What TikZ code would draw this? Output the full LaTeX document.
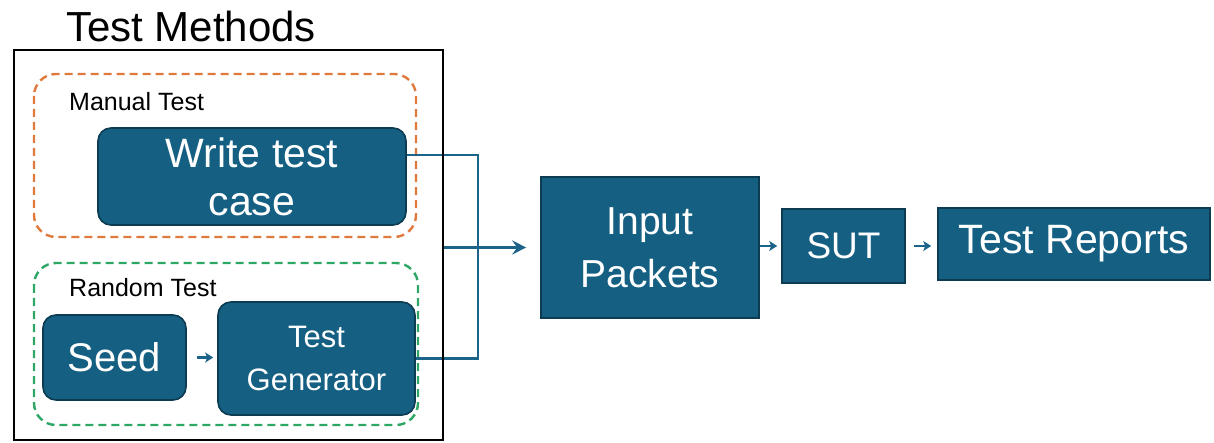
\documentclass[tikz,border=0pt]{standalone}
\usepackage{fontspec}
\setmainfont{Liberation Sans}
\usetikzlibrary{arrows.meta}

\definecolor{boxfill}{HTML}{156082}
\definecolor{boxline}{HTML}{0C3B52}
\definecolor{wire}{HTML}{1C6389}
\definecolor{manualc}{HTML}{E07A3C}
\definecolor{randomc}{HTML}{2EA765}

\tikzset{
  fs/.style 2 args={font=\fontsize{#1}{#2}\selectfont},
  blockbox/.style={draw=boxline, line width=1.6pt, fill=boxfill,
    text=white, align=center, inner sep=0pt},
  roundblock/.style={blockbox, rounded corners=13pt},
  group/.style={line width=2.4pt, dash pattern=on 8pt off 5pt,
    rounded corners=22pt},
  conn/.style={draw=wire, line width=2.2pt},
  bigarrow/.style={conn, -{Stealth[length=14pt,width=14pt,inset=5pt]}},
  smallarrow/.style={draw=wire, line width=2.8pt,
    -{Stealth[length=8pt,width=10pt,inset=2pt]}},
}

\begin{document}
\begin{tikzpicture}[x=1pt, y=-1pt]
  \useasboundingbox (0,0) rectangle (1214,443);

  % title of the method group
  \node[anchor=base west, inner sep=0pt, fs={42}{42}] (title) at (66,42) {Test Methods};

  % dashed groups
  \draw[group, draw=manualc] (34,74) rectangle (416,237);
  \draw[group, draw=randomc] (34,263) rectangle (418,425);
  \node[anchor=base west, inner sep=0pt, fs={25}{25}] (mlabel) at (69,111) {Manual Test};
  \node[anchor=base west, inner sep=0pt, fs={25}{25}] (rlabel) at (69,297) {Random Test};

  % test method blocks
  \node[roundblock, minimum width=308pt, minimum height=97pt, fs={41}{48}]
        (wtc) at (252,176.5) {Write test\\case};
  \node[roundblock, minimum width=143pt, minimum height=85pt, fs={40}{40}]
        (seed) at (114.5,357.5) {Seed};
  \node[roundblock, minimum width=197pt, minimum height=113pt, fs={31}{43}]
        (tg) at (316.5,358.5) {Test\\Generator};

  % pipeline blocks
  \node[blockbox, minimum width=218pt, minimum height=141pt, fs={39}{53}]
        (inp) at (650,247.5) {Input\\Packets};
  \node[blockbox, minimum width=123pt, minimum height=74pt, fs={37}{37}]
        (sut) at (843.5,246) {SUT};
  \node[blockbox, minimum width=272pt, minimum height=72pt, fs={41}{41}]
        (rep) at (1074,244) {Test Reports};

  % connectors
  \coordinate (join) at (478,247.5);
  \draw[conn] ([yshift=21.5pt]wtc.east) -| (join) |- (tg.east);
  \draw[smallarrow, shorten <=10pt, shorten >=4pt] (seed.east) -- (tg.west |- seed.east);

  % outer frame of the test methods
  \node[draw=black, line width=2pt, inner sep=0pt, minimum width=429pt,
        minimum height=390pt] (tm) at (228.5,245) {};

  \draw[bigarrow, shorten >=14pt] (tm.east |- inp.west) -- (inp.west);
  \draw[smallarrow, shorten >=4pt] (inp.east |- sut.west) -- (sut.west);
  \draw[smallarrow, shorten <=8pt, shorten >=6pt] (sut.east) -- (rep.west |- sut.east);
\end{tikzpicture}
\end{document}
